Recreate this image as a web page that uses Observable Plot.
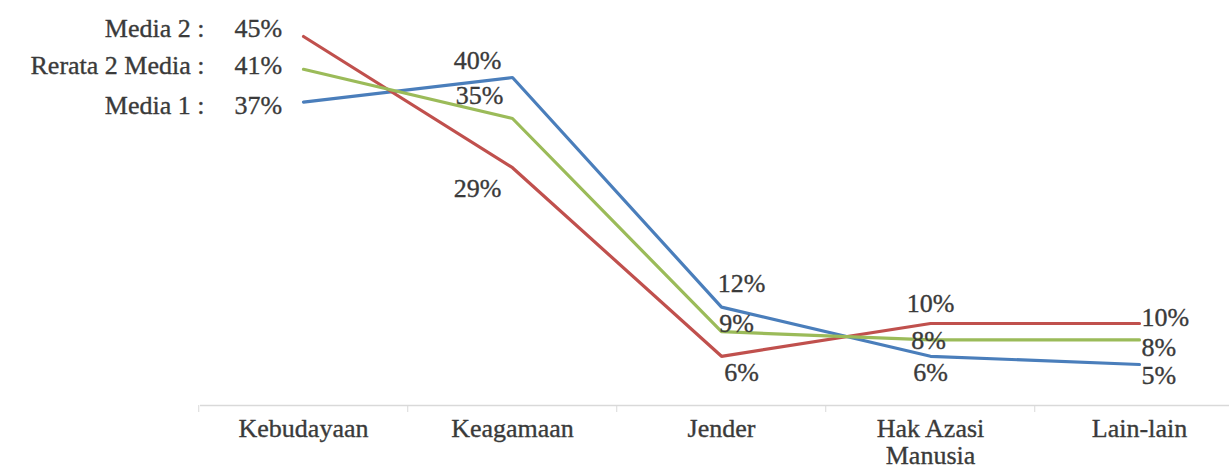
<!DOCTYPE html>
<html><head><meta charset="utf-8">
<script src="https://cdn.jsdelivr.net/npm/d3@7"></script>
<script src="https://cdn.jsdelivr.net/npm/@observablehq/plot@0.6"></script>
<style>body{margin:0;background:#fff} svg text{font-family:"Liberation Serif","Times New Roman",serif !important;}</style>
</head><body><div id="chart"></div>
<script>
// ---- data ----
const categories = ["Kebudayaan", "Keagamaan", "Jender", "Hak Azasi\nManusia", "Lain-lain"];
const seriesNames = ["Media 1", "Media 2", "Rerata 2 Media"];
const media1 = [37, 40, 12, 6, 5];
const media2 = [45, 29, 6, 10, 10];
const rerata = [41, 35, 9, 8, 8];
const legendNames = ["Media 1 :", "Media 2 :", "Rerata 2 Media :"];

// ---- styles ----
const seriesValues = {"Media 1": media1, "Media 2": media2, "Rerata 2 Media": rerata};
const colors = {"Media 1": "#4a7ebb", "Media 2": "#c0504d", "Rerata 2 Media": "#9bbb59"};
// label placement (dx, dy, anchor) per series, per category
const labelPlace = {
  "Media 1":        [[-69, 4, "start"], [-35, -17], [20, -23], [0, 16], [2, 11, "start"]],
  "Media 2":        [[-69, -8, "start"], [-35, 21], [20, 16], [0, -20], [2, -6, "start"]],
  "Rerata 2 Media": [[-69, -4, "start"], [-33, -23], [15, -8], [-2, 1], [2, 8, "start"]]
};
const W = 1229, H = 468, mL = 302, mR = 89, mT = 36, mB = 63;
const step = (W - mL - mR) / (categories.length - 1);
const font = '"Liberation Serif", "Times New Roman", serif';
const fs = 26;
const textColor = "#3a3a3a";
const textStyle = {fill: textColor, stroke: textColor, strokeWidth: 0.35, fontSize: fs, fontFamily: font};

const rows = seriesNames.flatMap(s => categories.map((c, i) => ({series: s, category: c, value: seriesValues[s][i], i})));

const labelMarks = rows.map(r => {
  const [dx, dy, anchor] = labelPlace[r.series][r.i];
  return Plot.text([r], {
    x: "category", y: "value", text: d => d.value + "%",
    dx, dy, textAnchor: anchor || "middle", ...textStyle
  });
});
const nameMarks = seriesNames.map((s, k) => {
  const [, dy] = labelPlace[s][0];
  return Plot.text([{category: categories[0], value: seriesValues[s][0], name: legendNames[k]}], {
    x: "category", y: "value", text: "name", dx: -99, dy, textAnchor: "end", ...textStyle
  });
});

const chart = Plot.plot({
  width: W, height: H,
  marginLeft: mL, marginRight: mR, marginTop: mT, marginBottom: mB,
  style: {fontFamily: font, fontSize: fs + "px", background: "#fff", overflow: "visible"},
  x: {type: "point", domain: categories, padding: 0, axis: null},
  y: {domain: [0, 45], axis: null},
  marks: [
    Plot.ruleY([0], {stroke: "#d9d9d9", strokeWidth: 1.5, insetLeft: -(mL - 200), insetRight: -mR}),
    Plot.ruleX(categories, {x: d => d, dx: -step / 2, stroke: "#d9d9d9", insetTop: H - mT - mB, insetBottom: -7}),
    Plot.ruleX([categories[categories.length - 1]], {x: d => d, dx: step / 2, stroke: "#d9d9d9", insetTop: H - mT - mB, insetBottom: -7}),
    Plot.text(categories, {x: d => d, y: () => 0, text: d => d, lineAnchor: "top", dy: 12, lineHeight: 1.05, ...textStyle}),
    Plot.line(rows, {x: "category", y: "value", z: "series", stroke: d => colors[d.series], strokeWidth: 3.2, strokeLinejoin: "miter"}),
    ...labelMarks,
    ...nameMarks
  ]
});
document.getElementById("chart").appendChild(chart);
</script>
</body></html>
